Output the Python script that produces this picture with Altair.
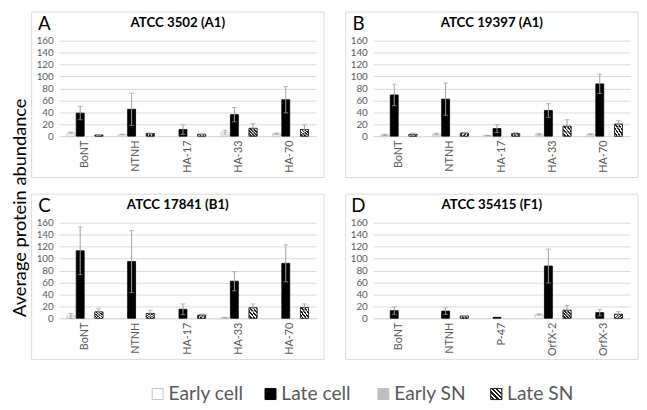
import altair as alt
import pandas as pd

series = ["Early cell", "Late cell", "Early SN", "Late SN"]
y_ticks = [0, 20, 40, 60, 80, 100, 120, 140, 160]

panel_letters = ["A", "B", "C", "D"]
panel_titles = ["ATCC 3502 (A1)", "ATCC 19397 (A1)", "ATCC 17841 (B1)", "ATCC 35415 (F1)"]

cats_ABC = ["BoNT", "NTNH", "HA-17", "HA-33", "HA-70"]
cats_D = ["BoNT", "NTNH", "P-47", "OrfX-2", "OrfX-3"]

# Panel A
A_early_cell = [5.5, 2.7, 0, 6.5, 4]
A_early_cell_err = [1.5, 0.5, 0, 3.5, 1]
A_late_cell = [38.5, 45, 11, 36, 61]
A_late_cell_err = [11, 27, 8, 12, 22]
A_early_sn = [0, 0, 0, 0, 0]
A_early_sn_err = [0, 0, 0, 0, 0]
A_late_sn = [1.7, 4.4, 3, 13, 11]
A_late_sn_err = [0.5, 1, 0.5, 8, 8]

# Panel B
B_early_cell = [2, 3.5, 1, 3, 3]
B_early_cell_err = [1, 1.5, 0.5, 1.5, 1]
B_late_cell = [69, 62, 12.7, 43, 87.5]
B_late_cell_err = [18, 27, 6.5, 11.5, 16]
B_early_sn = [0, 0, 0, 0, 0]
B_early_sn_err = [0, 0, 0, 0, 0]
B_late_sn = [3, 5, 4, 16.5, 20]
B_late_sn_err = [2, 1, 2, 11, 6]

# Panel C
C_early_cell = [4, 0, 0, 1, 0]
C_early_cell_err = [4, 0, 0, 0.5, 0]
C_late_cell = [113, 95, 15, 62, 92]
C_late_cell_err = [40, 52, 9, 16, 31]
C_early_sn = [0, 0, 0, 0, 0]
C_early_sn_err = [0, 0, 0, 0, 0]
C_late_sn = [10.5, 8, 5, 17.5, 18]
C_late_sn_err = [5.5, 5.5, 2, 6.5, 6]

# Panel D
D_early_cell = [0, 0, 0, 6, 0]
D_early_cell_err = [0, 0, 0, 1.5, 0]
D_late_cell = [12.7, 12, 1.5, 87.5, 9.4]
D_late_cell_err = [6, 5.5, 0, 28.5, 5.5]
D_early_sn = [0, 0, 0, 0, 0]
D_early_sn_err = [0, 0, 0, 0, 0]
D_late_sn = [0, 3.5, 0, 13.3, 6.6]
D_late_sn_err = [0, 1, 0, 8, 4.5]

panels = [
    (cats_ABC, [A_early_cell, A_late_cell, A_early_sn, A_late_sn],
     [A_early_cell_err, A_late_cell_err, A_early_sn_err, A_late_sn_err]),
    (cats_ABC, [B_early_cell, B_late_cell, B_early_sn, B_late_sn],
     [B_early_cell_err, B_late_cell_err, B_early_sn_err, B_late_sn_err]),
    (cats_ABC, [C_early_cell, C_late_cell, C_early_sn, C_late_sn],
     [C_early_cell_err, C_late_cell_err, C_early_sn_err, C_late_sn_err]),
    (cats_D, [D_early_cell, D_late_cell, D_early_sn, D_late_sn],
     [D_early_cell_err, D_late_cell_err, D_early_sn_err, D_late_sn_err]),
]

FONT = "Lato"
TXT = "#595959"
W, H = 261, 97

stops = []
n_stripes = 5
for k in range(n_stripes):
    a = k / n_stripes
    b = (k + 0.5) / n_stripes
    c = (k + 1) / n_stripes
    stops += [
        alt.GradientStop(offset=a, color="white"),
        alt.GradientStop(offset=b, color="white"),
        alt.GradientStop(offset=b, color="#1a1a1a"),
        alt.GradientStop(offset=c, color="#1a1a1a"),
    ]
hatch = alt.Gradient(gradient="linear", stops=stops, x1=0, y1=1, x2=1, y2=0)

fill_scale = alt.Scale(domain=series, range=["white", "black", "#bfbfbf", "white"])
stroke_scale = alt.Scale(domain=series, range=["#bfbfbf", "black", "#bfbfbf", "#262626"])

yaxis = alt.Axis(values=y_ticks, tickCount=9, domain=False, ticks=False, grid=True,
                 gridColor="#d9d9d9", labelPadding=6, labelFontSize=10,
                 labelOverlap=False, labelColor=TXT, labelFont=FONT)
yscale = alt.Scale(domain=[0, 160], nice=False)


def make_panel(i):
    cats, vals, errs = panels[i]
    rows = []
    for s, v_list, e_list in zip(series, vals, errs):
        for c, v, e in zip(cats, v_list, e_list):
            rows.append({"cat": c, "series": s, "value": v, "err": e,
                         "lo": max(v - e, 0), "hi": v + e})
    df = pd.DataFrame(rows)
    base = alt.Chart(df)
    x = alt.X("cat:N", sort=cats, title=None,
              scale=alt.Scale(paddingInner=0.3, paddingOuter=0.15),
              axis=alt.Axis(labelAngle=-90, domain=True, domainColor="#d9d9d9",
                            ticks=False, grid=False, labelPadding=4,
                            labelFontSize=11, labelColor=TXT, labelFont=FONT))
    xo = alt.XOffset("series:N", sort=series, scale=alt.Scale(domain=series, paddingInner=0.15))
    yq = alt.Y("value:Q", title=None, scale=yscale, axis=yaxis)

    frame = alt.Chart(pd.DataFrame({"f": [0]})).mark_rect(
        fill="white", fillOpacity=0, stroke="#d9d9d9", strokeWidth=1
    ).encode(x=alt.value(-28), x2=alt.value(W + 8), y=alt.value(-29), y2=alt.value(H + 42))

    bars = base.transform_filter("datum.value > 0").mark_bar(strokeWidth=0.8).encode(
        x=x, xOffset=xo, y=yq,
        fill=alt.Fill("series:N", scale=fill_scale, legend=None),
        stroke=alt.Stroke("series:N", scale=stroke_scale, legend=None),
    )
    hatched = base.transform_filter(
        "datum.series == 'Late SN' && datum.value > 0"
    ).mark_bar(fill=hatch, stroke="#262626", strokeWidth=0.8).encode(x=x, xOffset=xo, y=yq)

    ebase = base.transform_filter("datum.err > 0")
    rules = ebase.mark_rule(color="#a0a0a0", strokeWidth=1).encode(
        x=x, xOffset=xo, y=alt.Y("lo:Q", title=None, scale=yscale, axis=yaxis), y2="hi:Q")
    cap_hi = ebase.mark_tick(color="#a0a0a0", thickness=1, size=5).encode(
        x=x, xOffset=xo, y=alt.Y("hi:Q", title=None, scale=yscale, axis=yaxis))
    cap_lo = ebase.mark_tick(color="#a0a0a0", thickness=1, size=5).encode(
        x=x, xOffset=xo, y=alt.Y("lo:Q", title=None, scale=yscale, axis=yaxis))

    tdf = pd.DataFrame({"letter": [panel_letters[i]], "title": [panel_titles[i]]})
    letter = alt.Chart(tdf).mark_text(
        font=FONT, fontSize=19, color="black", align="center", baseline="middle"
    ).encode(x=alt.value(-15), y=alt.value(-17), text="letter:N")
    title = alt.Chart(tdf).mark_text(
        font=FONT, fontSize=13.5, fontWeight="bold", color="black",
        align="center", baseline="middle"
    ).encode(x=alt.value(W / 2 - 10), y=alt.value(-18), text="title:N")

    return alt.layer(frame, bars, hatched, rules, cap_hi, cap_lo, letter, title).properties(
        width=W, height=H)


p = [make_panel(i) for i in range(4)]
row1 = alt.hconcat(p[0], p[1], spacing=20)
row2 = alt.hconcat(p[2], p[3], spacing=20)
grid = alt.vconcat(row1, row2, spacing=15)

leg_df = pd.DataFrame({"series": series})
lx = alt.X("series:N", sort=series, axis=None,
           scale=alt.Scale(type="point", range=[100, 444], padding=0))
leg_sq = alt.Chart(leg_df).mark_square(size=125, strokeWidth=1, opacity=1).encode(
    x=lx, y=alt.value(10),
    fill=alt.Fill("series:N", scale=alt.Scale(domain=series, range=["white", "black", "#bfbfbf", "white"]), legend=None),
    stroke=alt.Stroke("series:N", scale=alt.Scale(domain=series, range=["#404040", "black", "#bfbfbf", "#262626"]), legend=None),
)
leg_hatch = alt.Chart(leg_df).transform_filter("datum.series == 'Late SN'").mark_square(
    size=125, strokeWidth=1, fill=hatch, stroke="#262626", opacity=1
).encode(x=lx, y=alt.value(10))
leg_txt = alt.Chart(leg_df).mark_text(
    align="left", baseline="middle", dx=11, fontSize=19.5, font=FONT, color=TXT
).encode(x=lx, y=alt.value(10), text="series:N")
legend = alt.layer(leg_sq, leg_hatch, leg_txt).properties(width=520, height=20)

chart = alt.vconcat(grid, legend, spacing=24).properties(
    title=alt.TitleParams("Average protein abundance", orient="left", anchor="middle",
                          font=FONT, fontSize=18.5, fontWeight="normal", color="black", offset=2),
    padding={"left": 2, "top": 0, "right": 0, "bottom": 0},
).configure_view(stroke=None).configure_axisY(labelOverlap=False)

chart.save("out.html", embed_options={"renderer": "svg", "actions": False})
